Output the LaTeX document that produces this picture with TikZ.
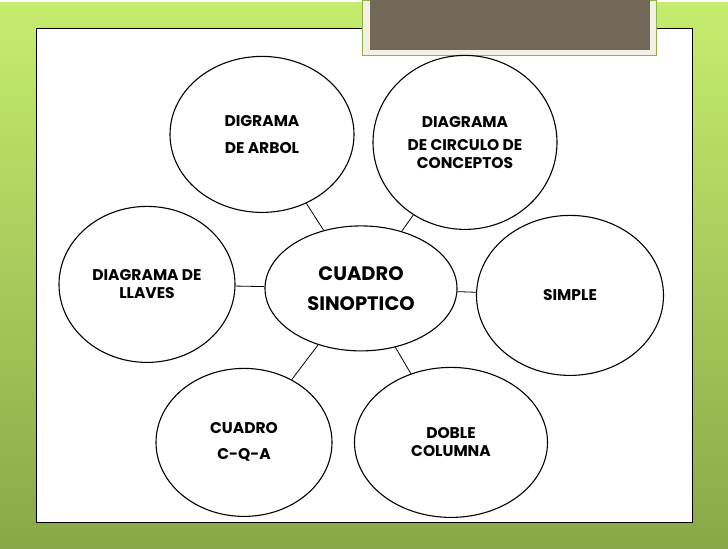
\documentclass[tikz,border=0pt]{standalone}
\usepackage{fontspec}
\setmainfont{Poppins}
\usetikzlibrary{shapes.geometric,positioning}

\definecolor{fondoalto}{HTML}{C6EC6E}
\definecolor{fondomedio}{HTML}{A9CE5A}
\definecolor{fondobajo}{HTML}{88A847}
\definecolor{marco}{HTML}{F3F1E4}
\definecolor{borde}{HTML}{8DB24A}
\definecolor{pestana}{HTML}{716857}

\begin{document}
\begin{tikzpicture}[x=1pt,y=-1pt,on grid,
    idea/.style={ellipse,draw,fill=white,line width=1.1pt,inner sep=0pt,align=center,
      font=\bfseries\fontsize{15.5}{18}\selectfont},
    enlace/.style={draw,line width=0.8pt}]
    % fondo y hoja
    \shade[top color=fondoalto,middle color=fondomedio,bottom color=fondobajo] (0,0) rectangle (728,546);
    \draw[fill=white,line width=1pt] (36,26) rectangle (692,520);
    \draw[borde,fill=marco,line width=0.8pt] (362,-2) rectangle (656,53);
    \fill[pestana] (370,-2) rectangle (650,48);

    \node[idea,minimum width=192pt,minimum height=125pt,font=\bfseries\fontsize{19.5}{23}\selectfont] (sinoptico) at (361,286) {CUADRO\\[7pt] SINOPTICO};
    \node[idea,minimum width=184pt,minimum height=156pt] (arbol) [above left=154pt and 99pt of sinoptico] {DIGRAMA\\[9pt] DE ARBOL};
    \node[idea,minimum width=184pt,minimum height=174pt] (conceptos) [above right=146pt and 104pt of sinoptico] {DIAGRAMA\\[5pt] DE CIRCULO DE\\ CONCEPTOS};
    \node[idea,minimum width=176pt,minimum height=156pt] (llaves) [above left=4pt and 214pt of sinoptico] {DIAGRAMA DE\\ LLAVES};
    \node[idea,minimum width=187pt,minimum height=160pt] (simple) [below right=7pt and 209pt of sinoptico] {SIMPLE};
    \node[idea,minimum width=176pt,minimum height=148pt] (cqa) [below left=154pt and 117pt of sinoptico] {CUADRO\\[8pt] C-Q-A};
    \node[idea,minimum width=193pt,minimum height=150pt] (doble) [below right=154pt and 90pt of sinoptico] {DOBLE\\ COLUMNA};

    \path[enlace]
    (sinoptico) -- (arbol)
    (sinoptico) -- (conceptos)
    (sinoptico) -- (llaves)
    (sinoptico) -- (simple)
    (sinoptico) -- (cqa)
    (sinoptico) -- (doble);
\end{tikzpicture}
\end{document}
